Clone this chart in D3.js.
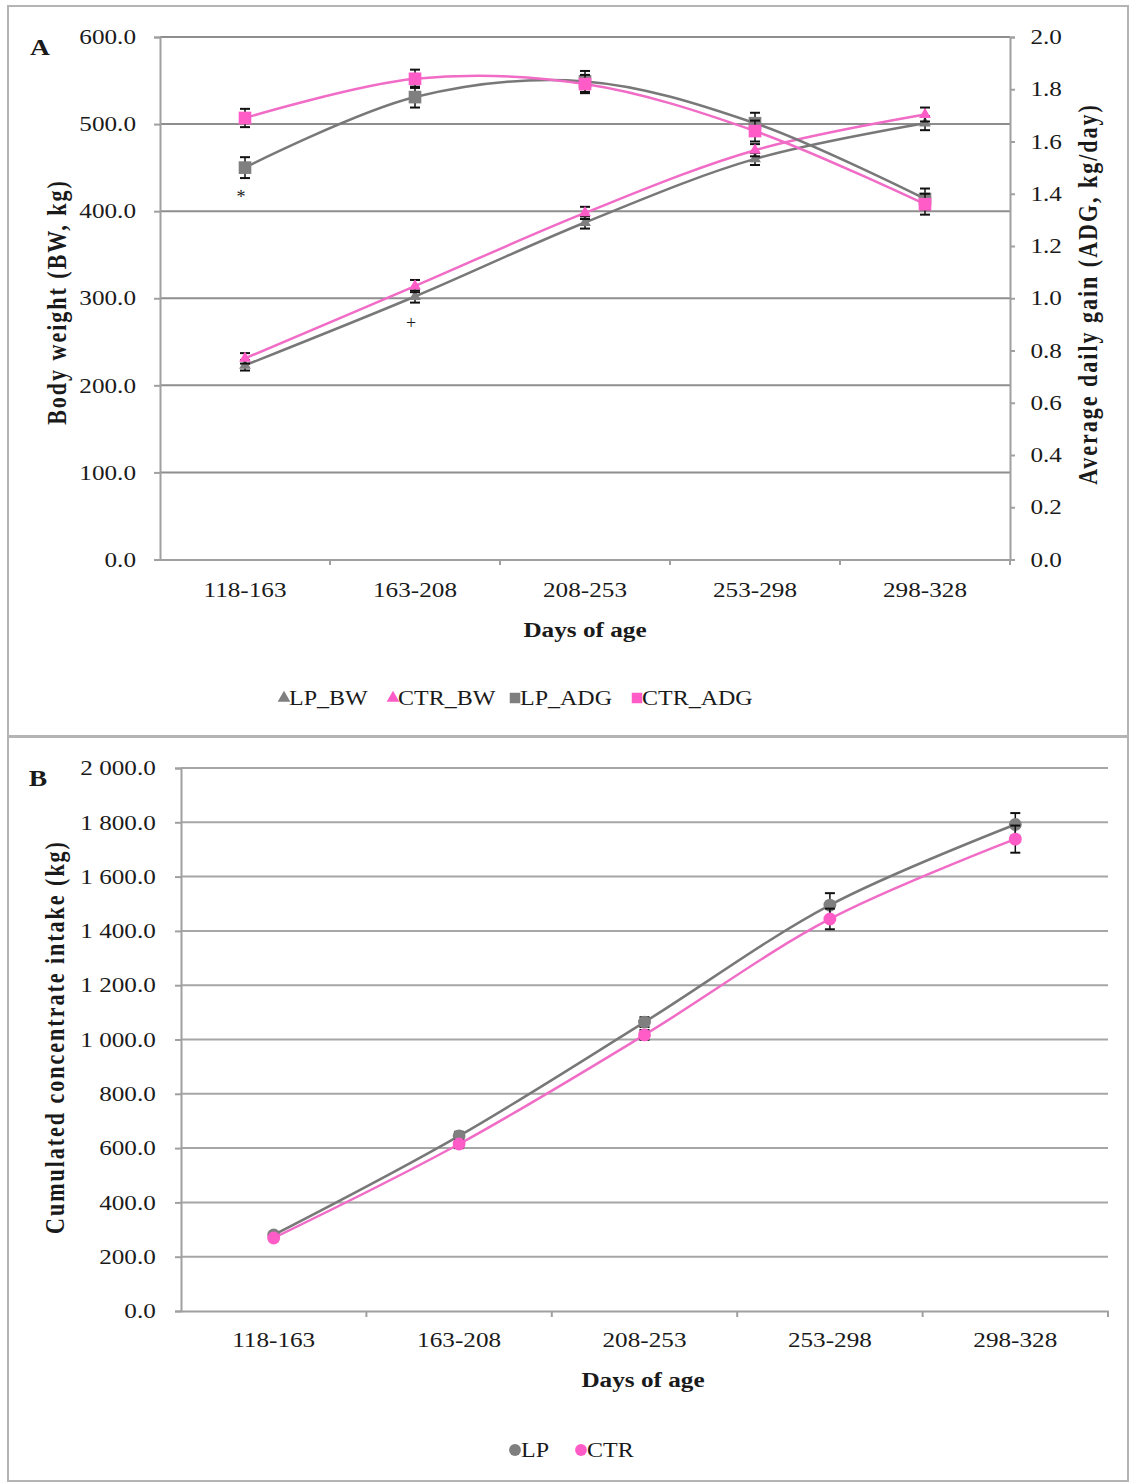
<!DOCTYPE html>
<html>
<head>
<meta charset="utf-8">
<script src="https://cdn.jsdelivr.net/npm/d3@7"></script>
<style>
  body { margin: 0; background: #fff; }
  text { font-family: "Liberation Serif", "Times New Roman", serif; fill: #1a1a1a; }
</style>
</head>
<body>
<div id="chart"></div>
<script>
const width = 1132;
const height = 1482;

// data
const categories = ["118-163", "163-208", "208-253", "253-298", "298-328"];

const lpBW = [223, 302, 387, 460, 501];
const lpBWErr = [6, 7, 7, 7, 8];
const ctrBW = [231, 314, 398, 470, 511];
const ctrBWErr = [6, 7, 7, 7, 8];

const lpADG = [1.50, 1.77, 1.83, 1.67, 1.38];
const lpADGErr = [0.04, 0.04, 0.04, 0.04, 0.04];
const ctrADG = [1.69, 1.84, 1.82, 1.64, 1.36];
const ctrADGErr = [0.035, 0.035, 0.035, 0.04, 0.04];

const lpCCI = [280, 645, 1064, 1495, 1792];
const lpCCIErr = [10, 15, 18, 44, 42];
const ctrCCI = [269, 615, 1017, 1444, 1738];
const ctrCCIErr = [10, 15, 18, 38, 50];

const bwTicks = [0, 100, 200, 300, 400, 500, 600];
const adgTicks = [0, 0.2, 0.4, 0.6, 0.8, 1.0, 1.2, 1.4, 1.6, 1.8, 2.0];
const cciTicks = [0, 200, 400, 600, 800, 1000, 1200, 1400, 1600, 1800, 2000];

const gray = "#7f7f7f";
const grayLine = "#787878";
const pink = "#ff5cc8";
const pinkLine = "#f06cc6";
const stretch = 1.2; // the source picture is widened horizontally

const svg = d3.select("#chart")
  .append("svg")
  .attr("width", width)
  .attr("height", height);

// panel frames
svg.append("rect").attr("x", 8).attr("y", 6).attr("width", 1120).attr("height", 730)
  .attr("fill", "#fff").attr("stroke", "#b4b4b4").attr("stroke-width", 2);
svg.append("rect").attr("x", 8).attr("y", 737).attr("width", 1120).attr("height", 744)
  .attr("fill", "#fff").attr("stroke", "#b4b4b4").attr("stroke-width", 2);

function label(x, y, txt, size, bold, anchor) {
  return svg.append("text")
    .attr("transform", `translate(${x},${y}) scale(${stretch},1)`)
    .attr("text-anchor", anchor || "middle")
    .style("font-size", size + "px")
    .style("font-weight", bold ? "bold" : "normal")
    .text(txt);
}

function vlabel(x, y, txt) {
  return svg.append("text")
    .attr("transform", `translate(${x},${y}) scale(${stretch},1) rotate(-90)`)
    .attr("text-anchor", "middle")
    .style("font-size", "22px")
    .style("font-weight", "bold")
    .style("letter-spacing", "2px")
    .text(txt);
}

function styleAxis(g) {
  g.select(".domain").attr("stroke", "#a0a0a0").attr("stroke-width", 2);
  g.selectAll(".tick line").attr("stroke", "#a0a0a0").attr("stroke-width", 2);
  g.selectAll(".tick text")
    .attr("transform", `scale(${stretch},1)`)
    .style("font-size", "21px")
    .attr("fill", "#1a1a1a");
}

function drawSeries(x, y, values, errs, color, lineColor, symbol, symSize) {
  const cx = (d, i) => x(categories[i]) + x.bandwidth() / 2;
  const line = d3.line()
    .x(cx)
    .y((d) => y(d))
    .curve(d3.curveCatmullRom.alpha(0.5));

  svg.append("path")
    .datum(values)
    .attr("fill", "none")
    .attr("stroke", lineColor)
    .attr("stroke-width", 2.5)
    .attr("d", line);

  const err = svg.append("g").selectAll("g")
    .data(values)
    .enter()
    .append("g");
  err.append("line")
    .attr("x1", cx).attr("x2", cx)
    .attr("y1", (d, i) => y(d - errs[i]))
    .attr("y2", (d, i) => y(d + errs[i]))
    .attr("stroke", "#111").attr("stroke-width", 1.5);
  [-1, 1].forEach((s) => {
    err.append("line")
      .attr("x1", (d, i) => cx(d, i) - 5)
      .attr("x2", (d, i) => cx(d, i) + 5)
      .attr("y1", (d, i) => y(d + s * errs[i]))
      .attr("y2", (d, i) => y(d + s * errs[i]))
      .attr("stroke", "#111").attr("stroke-width", 2);
  });

  svg.append("g").selectAll("path")
    .data(values)
    .enter()
    .append("path")
    .attr("d", d3.symbol().type(symbol).size(symSize))
    .attr("transform", (d, i) => `translate(${cx(d, i)},${y(d)})`)
    .attr("fill", color);
}

// ---------- Panel A ----------
const xA = d3.scaleBand().domain(categories).range([160, 1010]);
const yBW = d3.scaleLinear().domain([0, 600]).range([559.5, 37]);
const yADG = d3.scaleLinear().domain([0, 2]).range([559.5, 37]);

svg.append("g").selectAll("line")
  .data(bwTicks.slice(1))
  .enter()
  .append("line")
  .attr("x1", 160).attr("x2", 1010)
  .attr("y1", (d) => yBW(d)).attr("y2", (d) => yBW(d))
  .attr("stroke", "#8e8e8e").attr("stroke-width", 2);

svg.append("g")
  .attr("transform", "translate(160,0)")
  .call(d3.axisLeft(yBW).tickValues(bwTicks).tickFormat(d3.format(".1f")).tickSize(6).tickPadding(14))
  .call(styleAxis);

svg.append("g")
  .attr("transform", "translate(1010,0)")
  .call(d3.axisRight(yADG).tickValues(adgTicks).tickFormat(d3.format(".1f")).tickSize(5).tickPadding(12))
  .call(styleAxis);

svg.append("g")
  .attr("transform", "translate(0,559.5)")
  .call(d3.axisBottom(xA).tickSize(0).tickPadding(23))
  .call(styleAxis);

svg.append("g").selectAll("line")
  .data(categories.slice(1).concat(["end"]))
  .enter()
  .append("line")
  .attr("x1", (d) => d === "end" ? xA.range()[1] : xA(d))
  .attr("x2", (d) => d === "end" ? xA.range()[1] : xA(d))
  .attr("y1", 559.5).attr("y2", 565)
  .attr("stroke", "#a0a0a0").attr("stroke-width", 2);

drawSeries(xA, yBW, lpBW, lpBWErr, gray, grayLine, d3.symbolTriangle, 60);
drawSeries(xA, yBW, ctrBW, ctrBWErr, pink, pinkLine, d3.symbolTriangle, 60);
drawSeries(xA, yADG, lpADG, lpADGErr, gray, grayLine, d3.symbolSquare, 160);
drawSeries(xA, yADG, ctrADG, ctrADGErr, pink, pinkLine, d3.symbolSquare, 160);

// significance marks
svg.append("text")
  .attr("x", xA(categories[0]) + xA.bandwidth() / 2 - 4)
  .attr("y", yADG(lpADG[0]) + 35)
  .attr("text-anchor", "middle")
  .style("font-size", "18px")
  .attr("fill", "#333")
  .text("*");
svg.append("text")
  .attr("x", xA(categories[1]) + xA.bandwidth() / 2 - 4)
  .attr("y", yBW(lpBW[1]) + 32)
  .attr("text-anchor", "middle")
  .style("font-size", "18px")
  .attr("fill", "#333")
  .text("+");

label(40, 55, "A", 23, true);
vlabel(66, 302, "Body weight (BW, kg)");
vlabel(1097, 294, "Average daily gain (ADG, kg/day)");
label(585, 637, "Days of age", 21, true);

// legend A
const legendA = [
  { name: "LP_BW", color: gray, type: d3.symbolTriangle, x: 284 },
  { name: "CTR_BW", color: pink, type: d3.symbolTriangle, x: 393 },
  { name: "LP_ADG", color: gray, type: d3.symbolSquare, x: 515 },
  { name: "CTR_ADG", color: pink, type: d3.symbolSquare, x: 637 },
];
legendA.forEach((d) => {
  svg.append("path")
    .attr("d", d3.symbol().type(d.type).size(d.type === d3.symbolSquare ? 110 : 70))
    .attr("transform", `translate(${d.x},698)`)
    .attr("fill", d.color);
  label(d.x + 5, 705, d.name, 20, false, "start");
});

// ---------- Panel B ----------
const xB = d3.scaleBand().domain(categories).range([181, 1108]);
const yCCI = d3.scaleLinear().domain([0, 2000]).range([1311, 768]);
const spaceFmt = d3.formatLocale({ decimal: ".", thousands: " ", grouping: [3], currency: ["", ""] }).format(",.1f");

svg.append("g").selectAll("line")
  .data(cciTicks.slice(1))
  .enter()
  .append("line")
  .attr("x1", 181).attr("x2", 1108)
  .attr("y1", (d) => yCCI(d)).attr("y2", (d) => yCCI(d))
  .attr("stroke", "#a6a6a6").attr("stroke-width", 2);

svg.append("g")
  .attr("transform", "translate(181,0)")
  .call(d3.axisLeft(yCCI).tickValues(cciTicks).tickFormat(spaceFmt).tickSize(6).tickPadding(15))
  .call(styleAxis);

svg.append("g")
  .attr("transform", "translate(0,1311)")
  .call(d3.axisBottom(xB).tickSize(0).tickPadding(21))
  .call(styleAxis);

svg.append("g").selectAll("line")
  .data(categories.slice(1).concat(["end"]))
  .enter()
  .append("line")
  .attr("x1", (d) => d === "end" ? xB.range()[1] : xB(d))
  .attr("x2", (d) => d === "end" ? xB.range()[1] : xB(d))
  .attr("y1", 1311).attr("y2", 1317)
  .attr("stroke", "#a0a0a0").attr("stroke-width", 2);

drawSeries(xB, yCCI, lpCCI, lpCCIErr, gray, grayLine, d3.symbolCircle, 130);
drawSeries(xB, yCCI, ctrCCI, ctrCCIErr, pink, pinkLine, d3.symbolCircle, 130);

label(38, 786, "B", 23, true);
vlabel(64, 1037, "Cumulated concentrate intake (kg)");
label(643, 1387, "Days of age", 21, true);

// legend B
const legendB = [
  { name: "LP", color: gray, x: 515 },
  { name: "CTR", color: pink, x: 581 },
];
legendB.forEach((d) => {
  svg.append("path")
    .attr("d", d3.symbol().type(d3.symbolCircle).size(110))
    .attr("transform", `translate(${d.x},1450)`)
    .attr("fill", d.color);
  label(d.x + 6, 1457, d.name, 20, false, "start");
});
</script>
</body>
</html>
